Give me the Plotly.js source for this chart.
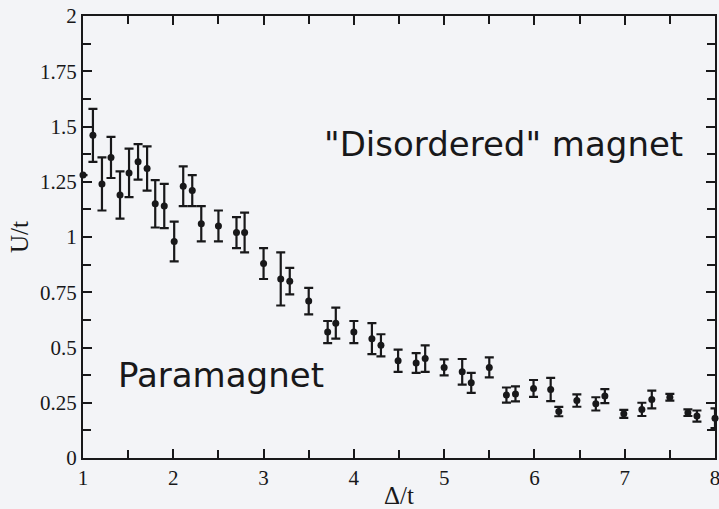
<!DOCTYPE html>
<html>
<head>
<meta charset="utf-8">
<script src="https://cdn.plot.ly/plotly-3.0.1.min.js"></script>
<style>html,body{margin:0;padding:0;background:#f3f4f7;}#chart{width:719px;height:509px;}</style>
</head>
<body>
<div id="chart"></div>
<script>
const deltaT = [1.00,1.11,1.21,1.31,1.41,1.51,1.61,1.71,1.80,1.90,2.01,2.11,2.21,2.31,2.50,2.70,2.79,
  3.00,3.19,3.29,3.50,3.71,3.80,4.00,4.20,4.30,4.49,4.69,4.79,5.00,5.20,5.30,5.50,5.69,5.79,5.99,
  6.18,6.27,6.47,6.68,6.78,6.99,7.19,7.30,7.50,7.70,7.80,8.00];
const uT = [1.28,1.46,1.24,1.36,1.19,1.29,1.34,1.31,1.15,1.14,0.98,1.23,1.21,1.06,1.05,1.02,1.02,
  0.88,0.81,0.80,0.71,0.57,0.61,0.57,0.54,0.51,0.44,0.43,0.45,0.41,0.39,0.34,0.41,0.285,0.29,0.315,
  0.31,0.21,0.26,0.245,0.28,0.20,0.22,0.265,0.275,0.205,0.19,0.18];
const uErr = [0,0.12,0.12,0.093,0.107,0.11,0.08,0.10,0.107,0.10,0.09,0.09,0.07,0.08,0.07,0.07,0.09,
  0.07,0.12,0.06,0.06,0.05,0.07,0.05,0.07,0.05,0.05,0.045,0.06,0.036,0.058,0.045,0.045,0.034,0.034,0.038,
  0.053,0.021,0.028,0.03,0.032,0.018,0.03,0.04,0.015,0.015,0.025,0.045];
const xTicks = [1,2,3,4,5,6,7,8];
const yTicks = [0,0.25,0.5,0.75,1,1.25,1.5,1.75,2];
const yTickLabels = ['0','0.25','0.5','0.75','1','1.25','1.5','1.75','2'];
const regionLabels = ['"Disordered" magnet','Paramagnet'];

const ink = '#18181a';
const trace = {
  x: deltaT, y: uT, type: 'scatter', mode: 'markers',
  marker: {color: ink, size: 7},
  error_y: {type: 'data', array: uErr, visible: true, color: ink, thickness: 2.2, width: 4.5},
  cliponaxis: false, hoverinfo: 'skip'
};
const tickFont = {family: 'Liberation Serif, serif', size: 21, color: ink};
const titleFont = {family: 'Liberation Serif, serif', size: 25, color: ink};
const layout = {
  width: 719, height: 509,
  margin: {l: 83, r: 4, t: 16, b: 51},
  paper_bgcolor: '#f3f4f7', plot_bgcolor: '#f3f4f7',
  showlegend: false,
  xaxis: {
    range: [1, 8], tickvals: xTicks, ticktext: xTicks.map(String),
    ticks: 'inside', ticklen: 9, tickwidth: 2, tickcolor: ink,
    minor: {dtick: 0.5, ticks: 'inside', ticklen: 8, tickwidth: 2, tickcolor: ink},
    showline: true, linecolor: ink, linewidth: 2, mirror: 'ticks',
    showgrid: false, zeroline: false, tickfont: tickFont, ticklabeloverflow: 'allow',
    title: {text: 'Δ/t', font: titleFont, standoff: 2}
  },
  yaxis: {
    range: [0, 2], tickvals: yTicks, ticktext: yTickLabels,
    ticks: 'inside', ticklen: 9, tickwidth: 2, tickcolor: ink,
    minor: {dtick: 0.125, ticks: 'inside', ticklen: 8, tickwidth: 2, tickcolor: ink},
    showline: true, linecolor: ink, linewidth: 2, mirror: 'ticks',
    showgrid: false, zeroline: false, tickfont: tickFont, ticklabeloverflow: 'allow',
    title: {text: 'U/t', font: titleFont, standoff: 4}
  },
  annotations: [
    {x: 5.66, y: 1.42, xref: 'x', yref: 'y', text: regionLabels[0], showarrow: false,
     font: {family: 'DejaVu Sans, sans-serif', size: 34, color: ink}, xanchor: 'center', yanchor: 'middle'},
    {x: 2.53, y: 0.375, xref: 'x', yref: 'y', text: regionLabels[1], showarrow: false,
     font: {family: 'DejaVu Sans, sans-serif', size: 34, color: ink}, xanchor: 'center', yanchor: 'middle'}
  ]
};
Plotly.newPlot('chart', [trace], layout, {displayModeBar: false, staticPlot: true});
</script>
</body>
</html>
